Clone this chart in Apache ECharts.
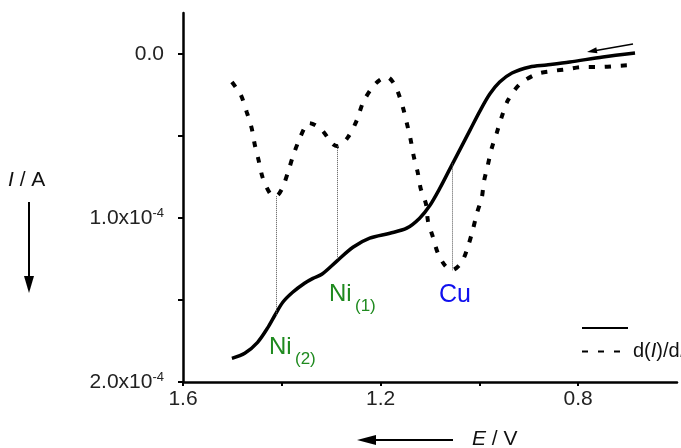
<!DOCTYPE html>
<html>
<head>
<meta charset="utf-8">
<script src="https://cdn.jsdelivr.net/npm/echarts@6/dist/echarts.min.js"></script>
<style>html,body{margin:0;padding:0;background:#fff}#c{width:681px;height:448px}</style>
</head>
<body>
<div id="c"></div>
<script>
// Current I (units of 1e-4 A) vs potential E (V)
var solidE = [1.501,1.475,1.449,1.428,1.414,1.398,1.378,1.354,1.337,1.319,1.287,1.256,1.222,1.181,1.147,1.121,1.100,1.080,1.060,1.040,1.019,0.999,0.979,0.959,0.934,0.898,0.864,0.817,0.750,0.685];
var solidI = [1.856,1.825,1.758,1.667,1.593,1.514,1.453,1.398,1.368,1.343,1.258,1.178,1.123,1.093,1.062,1.001,0.922,0.818,0.702,0.586,0.464,0.348,0.244,0.171,0.116,0.079,0.067,0.049,0.018,-0.006];
// Derivative d(I)/dE (scaled onto same axes)
var dashE = [1.501,1.483,1.471,1.461,1.455,1.447,1.439,1.424,1.412,1.400,1.388,1.378,1.366,1.351,1.345,1.321,1.297,1.287,1.266,1.248,1.236,1.218,1.202,1.187,1.175,1.165,1.155,1.147,1.139,1.133,1.125,1.119,1.108,1.104,1.094,1.084,1.070,1.056,1.036,1.023,1.013,1.005,0.995,0.991,0.983,0.975,0.965,0.955,0.942,0.918,0.884,0.853,0.821,0.790,0.756,0.722,0.689];
var dashI = [0.171,0.250,0.354,0.452,0.549,0.647,0.751,0.849,0.867,0.824,0.726,0.629,0.531,0.433,0.421,0.458,0.549,0.562,0.507,0.403,0.299,0.208,0.159,0.140,0.171,0.232,0.324,0.421,0.525,0.623,0.720,0.818,0.916,1.020,1.117,1.215,1.288,1.319,1.270,1.172,1.068,0.971,0.873,0.781,0.678,0.574,0.482,0.385,0.281,0.183,0.122,0.104,0.092,0.079,0.079,0.073,0.067];
// drop lines between derivative minima and I curve
var dropE = [1.412, 1.287, 1.054];
var dropTop = [0.867, 0.562, 0.667];
var dropBottom = [1.598, 1.258, 1.319];
var yTicks = [0, 0.5, 1, 1.5, 2];
var yLabels = [0, 1, 2];
var xTicks = [0.8, 1.0, 1.2, 1.4, 1.6];
var xLabels = [0.8, 1.2, 1.6];

function zip(a, b) { return a.map(function (v, i) { return [v, b[i]]; }); }
var FONT = '"Liberation Sans", Arial, sans-serif';
var chart = echarts.init(document.getElementById('c'), null, {renderer: 'canvas'});
var markData = dropE.map(function (e, i) {
  return [{coord: [e, dropTop[i]]}, {coord: [e, dropBottom[i]]}];
});
chart.setOption({
  animation: false,
  backgroundColor: '#fff',
  grid: {left: 183, right: 4, top: 13, bottom: 66},
  legend: {
    orient: 'vertical', left: 576, top: 316,
    itemWidth: 46, itemHeight: 14, itemGap: 8,
    data: ['I', 'dI'],
    itemStyle: {opacity: 0},
    formatter: function (n) { return n === 'I' ? '' : '{n|d(}{i|I}{n|)/d}{i|E}'; },
    textStyle: {fontFamily: FONT, fontSize: 20, color: '#111',
      rich: {n: {fontFamily: FONT, fontSize: 20, color: '#111'}, i: {fontFamily: FONT, fontSize: 20, fontStyle: 'italic', color: '#111'}}}
  },
  xAxis: {
    type: 'value', inverse: true, min: 0.6, max: 1.6,
    axisLine: {onZero: false, lineStyle: {color: '#000', width: 2.5}},
    axisTick: {customValues: xTicks, length: 4, lineStyle: {color: '#000', width: 2}},
    axisLabel: {customValues: xLabels, formatter: function (v) { return v.toFixed(1); },
      fontFamily: FONT, fontSize: 21, color: '#222', margin: 7},
    splitLine: {show: false}
  },
  yAxis: {
    type: 'value', inverse: true, min: -0.25, max: 2,
    axisLine: {onZero: false, lineStyle: {color: '#000', width: 2.5}},
    axisTick: {customValues: yTicks, length: 5, lineStyle: {color: '#000', width: 2}},
    axisLabel: {customValues: yLabels, margin: 19,
      formatter: function (v) { return v === 0 ? '{a|0.0}' : '{a|' + v.toFixed(1) + 'x10}{s|-4}'; },
      rich: {a: {fontFamily: FONT, fontSize: 21, color: '#222'},
             s: {fontFamily: FONT, fontSize: 13, color: '#222', verticalAlign: 'top', padding: [0, 0, 9, 0]}}},
    splitLine: {show: false}
  },
  series: [
    {name: 'I', type: 'line', data: zip(solidE, solidI), symbol: 'none', smooth: 0.3,
      lineStyle: {color: '#000', width: 3.5}, itemStyle: {color: '#000'},
      markLine: {silent: true, symbol: ['none', 'none'], label: {show: false},
        lineStyle: {color: '#555', width: 1, type: [1, 1]}, data: markData}},
    {name: 'dI', type: 'line', data: zip(dashE, dashI), symbol: 'none', smooth: 0.3,
      lineStyle: {color: '#000', width: 4, type: [6, 10], cap: 'butt'}, itemStyle: {color: '#000'}}
  ],
  graphic: [
    {type: 'text', left: 8, top: 170, style: {text: '{i|I} / A', rich: {i: {fontStyle: 'italic', fontFamily: FONT, fontSize: 21, fill: '#111'}}, font: '21px ' + FONT, fill: '#111'}},
    {type: 'line', shape: {x1: 29, y1: 202, x2: 29, y2: 278}, style: {stroke: '#000', lineWidth: 2}},
    {type: 'polygon', shape: {points: [[24, 276], [34, 276], [29, 293]]}, style: {fill: '#000'}},
    {type: 'text', left: 472, top: 429, style: {text: '{i|E} / V', rich: {i: {fontStyle: 'italic', fontFamily: FONT, fontSize: 21, fill: '#111'}}, font: '21px ' + FONT, fill: '#111'}},
    {type: 'line', shape: {x1: 453, y1: 440, x2: 372, y2: 440}, style: {stroke: '#000', lineWidth: 2}},
    {type: 'polygon', shape: {points: [[376, 435], [376, 445], [357, 440]]}, style: {fill: '#000'}},
    {type: 'line', shape: {x1: 633, y1: 44, x2: 596, y2: 50.4}, style: {stroke: '#000', lineWidth: 1.5}},
    {type: 'polygon', shape: {points: [[597.4, 53.2], [596.3, 47.3], [587, 52]]}, style: {fill: '#000'}},
    {type: 'text', x: 269, y: 347, style: {text: 'Ni', font: '24px ' + FONT, fill: '#1f8a1f', verticalAlign: 'middle'}},
    {type: 'text', x: 295, y: 359, style: {text: '(2)', font: '17px ' + FONT, fill: '#1f8a1f', verticalAlign: 'middle'}},
    {type: 'text', x: 329, y: 294, style: {text: 'Ni', font: '24px ' + FONT, fill: '#1f8a1f', verticalAlign: 'middle'}},
    {type: 'text', x: 355, y: 306, style: {text: '(1)', font: '17px ' + FONT, fill: '#1f8a1f', verticalAlign: 'middle'}},
    {type: 'text', x: 439, y: 295, style: {text: 'Cu', font: '25px ' + FONT, fill: '#1010ee', verticalAlign: 'middle'}}
  ]
});
</script>
</body>
</html>
